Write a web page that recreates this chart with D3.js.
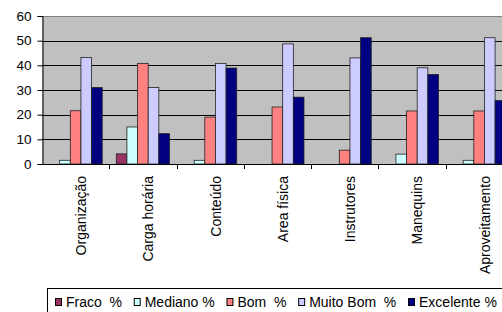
<!DOCTYPE html>
<html>
<head>
<meta charset="utf-8">
<script src="https://cdn.jsdelivr.net/npm/d3@7"></script>
<style>
  body { margin: 0; background: white; }
  text { font-family: Arial, "Liberation Sans", sans-serif; }
</style>
</head>
<body>
<div id="container"></div>
<script>
const categories = ["Organização", "Carga horária", "Conteúdo", "Area física", "Instrutores", "Manequins", "Aproveitamento"]
const seriesNames = ["Fraco  %", "Mediano %", "Bom  %", "Muito Bom  %", "Excelente %"]
const fraco = [0, 4.1, 0, 0, 0, 0, 0]
const mediano = [1.5, 15, 1.5, 0, 0, 4, 1.5]
const bom = [21.6, 40.8, 19, 23.1, 5.6, 21.5, 21.5]
const muitoBom = [43.2, 31, 40.8, 48.7, 43, 39, 51.2]
const excelente = [31, 12.3, 38.9, 27.1, 51.2, 36.3, 25.7]
const yTicks = [0, 10, 20, 30, 40, 50, 60]
const colors = ["#993366", "#ccffff", "#ff8080", "#ccccff", "#000080"]

const series = [fraco, mediano, bom, muitoBom, excelente]
const w = 502, h = 312

const svg = d3.select("#container").append("svg").attr("width", w).attr("height", h)

const x = d3.scaleBand().domain(categories).range([42, 42 + 7 * 67.25]).paddingInner(0).paddingOuter(0)
const xInner = d3.scaleBand().domain(d3.range(5)).range([0, x.bandwidth()]).paddingInner(0).paddingOuter(0.66)
const y = d3.scaleLinear().domain([0, 60]).range([164, 16])

// plot area
svg.append("rect").attr("x", 42).attr("y", y(60)).attr("width", w - 42).attr("height", y(0) - y(60))
    .attr("fill", "#c0c0c0")
svg.append("line").attr("x1", 42).attr("x2", w).attr("y1", y(60) + 0.5).attr("y2", y(60) + 0.5)
    .attr("stroke", "#808080")

// gridlines
svg.append("g").selectAll("line").data(yTicks.filter(d => d > 0 && d < 60)).enter().append("line")
    .attr("x1", 42).attr("x2", w)
    .attr("y1", d => Math.round(y(d)) + 0.5).attr("y2", d => Math.round(y(d)) + 0.5)
    .attr("stroke", "#000").attr("stroke-width", 1)

// bars
const groups = svg.append("g").selectAll("g").data(categories).enter().append("g")
    .attr("transform", d => `translate(${x(d)},0)`)
groups.selectAll("rect")
    .data((c, i) => series.map((s, k) => ({ k, v: s[i] })).filter(d => d.v > 0))
    .enter().append("rect")
    .attr("x", d => xInner(d.k))
    .attr("width", xInner.bandwidth())
    .attr("y", d => y(d.v))
    .attr("height", d => y(0) - y(d.v))
    .attr("fill", d => colors[d.k])
    .attr("stroke", "#222")
    .attr("stroke-width", 0.8)

// y axis
const yAxis = svg.append("g").attr("transform", "translate(42.5,0)")
    .call(d3.axisLeft(y).tickValues(yTicks).tickSize(5).tickPadding(6))
yAxis.select(".domain").attr("stroke", "#000")
yAxis.selectAll(".tick line").attr("stroke", "#000")
yAxis.selectAll("text").attr("font-size", 13.5).attr("fill", "#000")
    .style("font-family", "Arial, 'Liberation Sans', sans-serif")

// x axis
svg.append("line").attr("x1", 42).attr("x2", w).attr("y1", y(0) + 0.5).attr("y2", y(0) + 0.5).attr("stroke", "#000")
svg.append("g").selectAll("line").data(categories.slice(1)).enter().append("line")
    .attr("x1", d => Math.round(x(d)) + 0.5).attr("x2", d => Math.round(x(d)) + 0.5)
    .attr("y1", y(0)).attr("y2", y(0) + 5)
    .attr("stroke", "#000")

svg.append("g").selectAll("text").data(categories).enter().append("text")
    .attr("transform", d => `translate(${x(d) + x.bandwidth() / 2 + 5.5},176) rotate(-90)`)
    .attr("text-anchor", "end")
    .attr("dy", "0.35em")
    .attr("font-size", 14)
    .text(d => d)

// legend
const legend = svg.append("g")
legend.append("rect").attr("x", 47.5).attr("y", 288.5).attr("width", 470).attr("height", 40)
    .attr("fill", "white").attr("stroke", "#000")
let lx = 55
seriesNames.forEach((name, k) => {
    legend.append("rect").attr("x", lx + 0.5).attr("y", 298.5).attr("width", 6).attr("height", 7)
        .attr("fill", colors[k]).attr("stroke", "#000").attr("stroke-width", 1)
    const t = legend.append("text").attr("x", lx + 11).attr("y", 306.5)
        .attr("font-size", 14).style("white-space", "pre").text(name)
    lx += 11 + t.node().getComputedTextLength() + 11.7
})
</script>
</body>
</html>
